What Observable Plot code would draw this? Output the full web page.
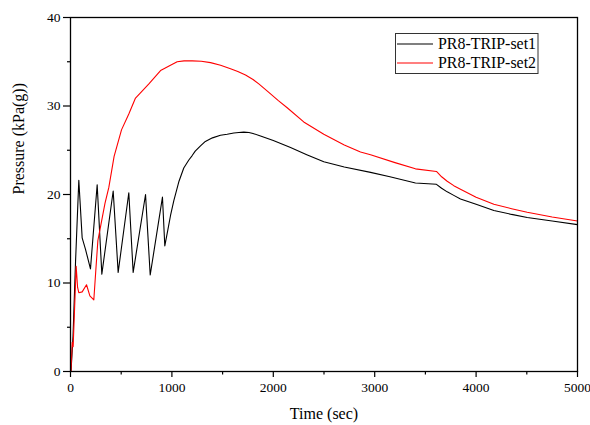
<!DOCTYPE html>
<html><head><meta charset="utf-8">
<script src="https://cdn.jsdelivr.net/npm/d3@7"></script>
<script src="https://cdn.jsdelivr.net/npm/@observablehq/plot@0.6"></script>
<style>body{margin:0;background:#fff}#chart{width:590px;height:425px}</style>
</head><body><div id="chart"></div><script>
const seriesNames = ["PR8-TRIP-set1", "PR8-TRIP-set2"];
const seriesColors = ["#000000", "#ff0000"];
const xTicks = [0, 1000, 2000, 3000, 4000, 5000];
const xMinorTicks = [500, 1500, 2500, 3500, 4500];
const yTicks = [0, 10, 20, 30, 40];
const yMinorTicks = [5, 15, 25, 35];

const set1Time = [5, 25, 50, 82, 115, 148, 197, 263, 309, 421, 470, 575, 618, 740, 786, 907, 930, 960, 986, 1019, 1070, 1117, 1167, 1200, 1230, 1282, 1330, 1400, 1479, 1545, 1611, 1660, 1709, 1760, 1800, 1874, 2000, 2170, 2330, 2498, 2700, 2959, 3150, 3402, 3609, 3660, 3715, 3780, 3846, 4000, 4175, 4350, 4504, 4750, 5000];
const set1Pressure = [0, 4, 12.5, 21.6, 15.1, 13.8, 11.6, 21.1, 11.0, 20.4, 11.2, 20.2, 11.2, 20.0, 10.9, 19.7, 14.2, 16.0, 17.6, 19.3, 21.5, 23.0, 23.9, 24.4, 24.9, 25.5, 26.0, 26.4, 26.7, 26.8, 26.95, 27.0, 27.05, 27.0, 26.9, 26.6, 26.1, 25.3, 24.5, 23.7, 23.1, 22.5, 22.0, 21.3, 21.15, 20.7, 20.3, 19.9, 19.5, 18.9, 18.2, 17.75, 17.4, 17.0, 16.6];

const set2Time = [5, 17, 26, 56, 70, 82, 115, 158, 191, 230, 250, 270, 300, 340, 378, 430, 503, 575, 641, 683, 773, 888, 921, 986, 1052, 1120, 1200, 1290, 1381, 1480, 1578, 1650, 1726, 1800, 1857, 1950, 2050, 2137, 2300, 2498, 2700, 2860, 2959, 3200, 3402, 3609, 3660, 3715, 3780, 3846, 4000, 4175, 4350, 4504, 4750, 5000];
const set2Pressure = [0, 3.3, 2.8, 11.9, 9.5, 8.9, 9.0, 9.8, 8.55, 8.1, 11.5, 14.8, 16.6, 19.0, 20.8, 24.3, 27.3, 29.1, 30.9, 31.4, 32.5, 34.0, 34.2, 34.6, 35.0, 35.1, 35.1, 35.05, 34.9, 34.6, 34.2, 33.9, 33.5, 33.0, 32.5, 31.6, 30.6, 29.8, 28.2, 26.8, 25.6, 24.8, 24.5, 23.6, 22.9, 22.6, 22.0, 21.5, 21.0, 20.6, 19.7, 18.9, 18.4, 18.0, 17.45, 17.0];

const rows1 = set1Time.map((t, i) => ({t, p: set1Pressure[i]}));
const rows2 = set2Time.map((t, i) => ({t, p: set2Pressure[i]}));

const font = "'Liberation Serif', 'DejaVu Serif', serif";
const chart = Plot.plot({
  width: 590, height: 425,
  marginLeft: 70, marginRight: 13, marginTop: 17, marginBottom: 54,
  style: {fontFamily: font, fontSize: "13.5px", background: "#fff", color: "#000"},
  x: {domain: [0, 5000]},
  y: {domain: [0, 40]},
  marks: [
    Plot.axisX({ticks: xTicks, tickSize: 6, tickPadding: 5, tickFormat: d => String(d), label: null, fontSize: 13.5, strokeWidth: 1.2}),
    Plot.axisX({ticks: xMinorTicks, tickSize: 3.5, tickFormat: () => "", label: null, strokeWidth: 1.2}),
    Plot.axisY({ticks: yTicks, tickSize: 7, tickPadding: 3, tickFormat: d => String(d), label: null, fontSize: 13.5, strokeWidth: 1.2}),
    Plot.axisY({ticks: yMinorTicks, tickSize: 3, tickFormat: () => "", label: null, strokeWidth: 1.2}),
    Plot.line(rows1, {x: "t", y: "p", stroke: seriesColors[0], strokeWidth: 1.1}),
    Plot.line(rows2, {x: "t", y: "p", stroke: seriesColors[1], strokeWidth: 1.1}),
    Plot.frame({stroke: "#000", strokeWidth: 1.3}),
    Plot.text(["Time (sec)"], {frameAnchor: "bottom", dy: 42, lineAnchor: "middle", fontSize: 16, fill: "#000"}),
    Plot.text(["Pressure (kPa(g))"], {frameAnchor: "left", dx: -52, rotate: -90, lineAnchor: "middle", fontSize: 16, fill: "#000"})
  ]
});
document.getElementById("chart").appendChild(chart);

// legend inside plot area (upper right)
const svg = d3.select(chart);
const lg = svg.append("g").attr("font-family", font).attr("font-size", 16).attr("text-anchor", "start");
lg.append("rect").attr("x", 395.5).attr("y", 33.5).attr("width", 142.5).attr("height", 40)
  .attr("fill", "#fff").attr("stroke", "#333").attr("stroke-width", 1);
seriesNames.forEach((name, i) => {
  const y = 44 + i * 19;
  lg.append("line").attr("x1", 397).attr("x2", 433).attr("y1", y).attr("y2", y)
    .attr("stroke", seriesColors[i]).attr("stroke-width", 1.1);
  lg.append("text").attr("x", 438).attr("y", y + 5).attr("fill", "#000")
    .attr("textLength", 98).attr("lengthAdjust", "spacingAndGlyphs").text(name);
});
</script></body></html>
